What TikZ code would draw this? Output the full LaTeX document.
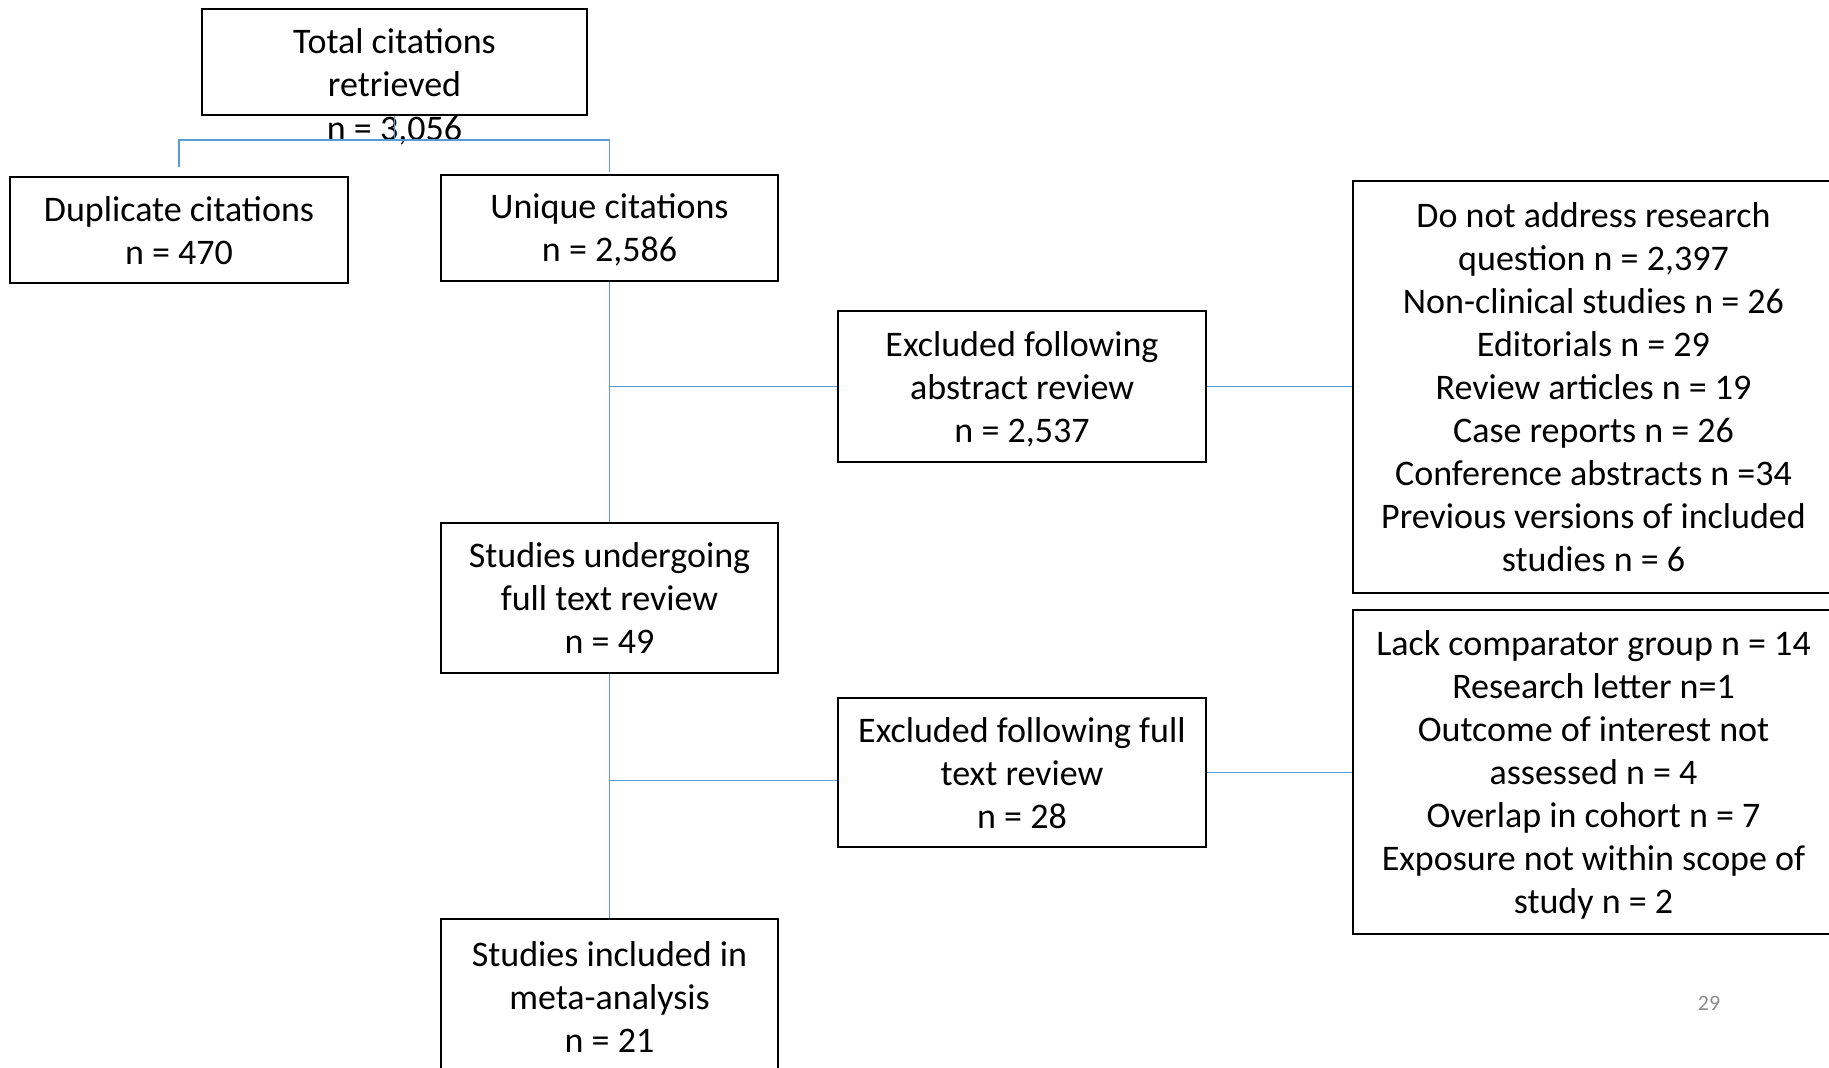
\documentclass[tikz,border=0pt]{standalone}
\usepackage{fontspec}
\setmainfont{Carlito}
\usepackage{tikz}
\definecolor{linkblue}{RGB}{91,155,213}
\definecolor{pagegray}{RGB}{140,140,140}
\tikzset{
  box/.style={draw, line width=1.25pt, align=center, inner sep=0pt,
    font=\fontsize{18}{21.5}\selectfont, text depth=-7pt},
  link/.style={draw=linkblue, line width=0.75pt},
}

\begin{document}
\begin{tikzpicture}[x=0.5pt, y=-0.5pt]
    \useasboundingbox (0,0) rectangle (1829,1067);

    \node[box, minimum width=192.5pt, minimum height=53pt,
      label={[name=totaln, inner sep=0pt, label distance=0pt,
        font=\fontsize{18}{21.5}\selectfont]below:n = 3,056}]
      (total) at (394.5,62) {Total citations\\retrieved};
    \node[box, minimum width=169pt, minimum height=53pt] (dup) at (179,230) {Duplicate citations\\n = 470};
    \node[box, minimum width=168.5pt, minimum height=53pt] (uniq) at (609.5,228) {Unique citations\\n = 2,586};
    \node[box, minimum width=184pt, minimum height=75.5pt] (exabs) at (1022,386.5) {Excluded following\\abstract review\\n = 2,537};
    \node[box, minimum width=240.5pt, minimum height=206pt] (reasabs) at (1593.5,387)
      {Do not address research\\question n = 2,397\\Non-clinical studies n = 26\\Editorials n = 29\\Review articles n = 19\\Case reports n = 26\\Conference abstracts n =34\\Previous versions of included\\studies n = 6};
    \node[box, minimum width=168.5pt, minimum height=75pt] (fulltext) at (609.5,598) {Studies undergoing\\full text review\\n = 49};
    \node[box, minimum width=184pt, minimum height=74.5pt] (exfull) at (1022,772.5) {Excluded following full\\text review\\n = 28};
    \node[box, minimum width=240.5pt, minimum height=162pt] (reasfull) at (1593.5,772)
      {Lack comparator group n = 14\\Research letter n=1\\Outcome of interest not\\assessed n = 4\\Overlap in cohort n = 7\\Exposure not within scope of\\study n = 2};
    \node[box, minimum width=168.5pt, minimum height=77.5pt] (incl) at (609.5,996.5) {Studies included in\\meta-analysis\\n = 21};
    \node[text=pagegray, font=\fontsize{11}{13}\selectfont] (pagenum) at (1709,1003) {29};

    \coordinate (split) at (394.5,140);
    \coordinate (exfulljoin) at ([yshift=-4pt]exfull.west);
    \draw[link] (total.south) -- (split);
    \draw[link] ([yshift=4.5pt]dup.north) |- (split) -| ([yshift=1pt]uniq.north);
    \draw[link] (uniq.south) -- (fulltext.north);
    \draw[link] (exabs.west -| uniq.south) -- (exabs.west);
    \draw[link] (exabs.east) -- (exabs.east -| reasabs.west);
    \draw[link] (fulltext.south) -- (incl.north);
    \draw[link] (exfulljoin -| fulltext.south) -- (exfulljoin);
    \draw[link] (exfull.east) -- (exfull.east -| reasfull.west);
\end{tikzpicture}
\end{document}
